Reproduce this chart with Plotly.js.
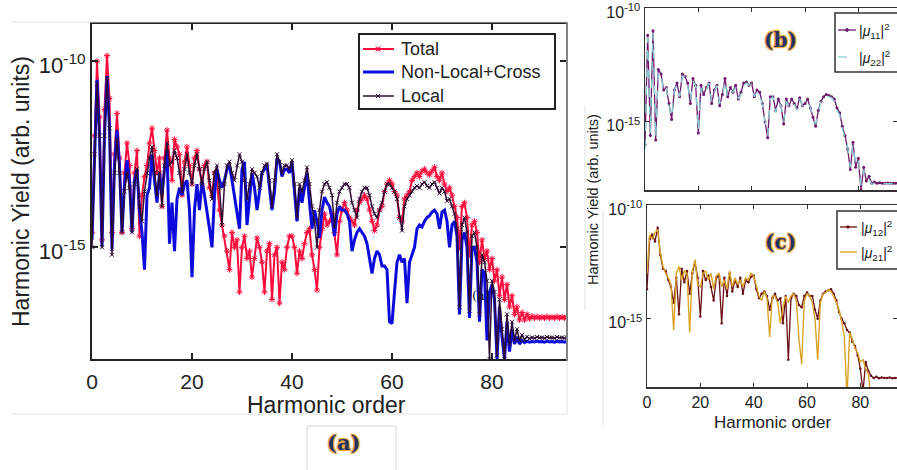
<!DOCTYPE html>
<html>
<head>
<meta charset="utf-8">
<script src="https://cdn.plot.ly/plotly-3.0.1.min.js"></script>
<style>
html, body { margin: 0; padding: 0; overflow: hidden; background: #fff; }
#chart { width: 897px; height: 470px; }
</style>
</head>
<body>
<div id="chart"></div>
<script>
// ---------------- DATA (log10 of harmonic yield, arb. units) ----------------
// Panel (a): sampled every 0.5 harmonic order, 0 .. 95
const mainStep = 0.5;
const totalLog10 = [
-14.6,-12.0,-10.0,-11.5,-14.8,-11.3,-9.85,-11.0,-14.6,-12.5,
-11.4,-12.6,-14.6,-13.0,-12.2,-12.8,-14.5,-13.0,-12.4,-14.7,
-13.6,-13.1,-12.8,-12.2,-11.8,-12.4,-13.0,-12.6,-13.9,-12.6,
-11.85,-12.6,-13.2,-12.1,-12.3,-12.5,-13.6,-12.7,-12.3,-12.8,
-13.3,-12.6,-12.4,-12.9,-13.3,-12.8,-12.7,-13.4,-13.6,-13.0,
-13.2,-14.0,-14.4,-14.7,-15.1,-15.6,-14.6,-15.0,-14.8,-16.2,
-15.0,-14.7,-15.3,-15.1,-15.8,-15.3,-14.75,-15.0,-15.4,-16.2,
-15.1,-14.9,-16.4,-15.2,-15.0,-16.5,-15.4,-15.6,-15.0,-14.7,
-14.7,-15.0,-15.7,-15.1,-15.3,-14.9,-14.6,-14.5,-15.2,-15.6,
-16.15,-15.0,-14.5,-14.1,-14.4,-14.3,-14.1,-14.6,-15.2,-14.3,
-14.0,-13.8,-14.0,-14.2,-14.3,-14.4,-14.0,-13.8,-13.7,-13.6,
-13.7,-14.0,-14.3,-14.55,-14.4,-14.0,-13.9,-13.5,-13.3,-13.2,
-13.3,-13.5,-13.6,-14.2,-14.3,-13.7,-13.6,-13.5,-13.2,-13.1,
-13.0,-13.1,-12.95,-12.9,-13.0,-13.05,-12.95,-12.85,-13.1,-13.2,
-13.0,-13.3,-13.5,-13.4,-13.6,-13.9,-14.2,-15.0,-13.9,-13.8,
-14.2,-15.2,-14.4,-14.3,-14.6,-15.4,-14.8,-15.3,-15.1,-15.6,
-15.3,-15.9,-15.6,-16.3,-15.8,-16.4,-16.0,-16.6,-16.3,-16.8,
-16.6,-16.95,-16.75,-16.95,-16.8,-16.92,-16.85,-16.9,-16.86,-16.9,
-16.87,-16.9,-16.86,-16.9,-16.87,-16.9,-16.86,-16.9,-16.87,-16.9,
-16.88];
const nonLocalCrossLog10 = [
-14.8,-12.3,-10.5,-12.0,-15.0,-12.0,-10.4,-11.8,-15.1,-12.8,
-11.85,-12.8,-14.6,-13.3,-12.66,-13.2,-14.6,-13.2,-12.9,-14.0,
-14.6,-15.6,-13.6,-13.4,-12.5,-13.2,-13.8,-13.0,-13.6,-12.9,
-12.4,-14.9,-13.8,-15.1,-13.7,-13.4,-13.6,-13.3,-13.2,-14.0,
-15.8,-14.0,-13.3,-14.0,-13.2,-13.6,-14.0,-14.5,-15.0,-13.6,
-12.9,-13.2,-13.4,-13.2,-12.9,-12.8,-13.2,-13.6,-14.0,-14.5,
-12.9,-12.7,-14.4,-13.6,-13.0,-13.4,-14.0,-13.5,-13.0,-12.9,
-12.75,-13.4,-14.0,-13.5,-12.6,-12.7,-13.1,-12.9,-12.9,-13.0,
-12.7,-13.5,-14.3,-13.4,-13.8,-13.4,-13.0,-13.8,-14.5,-14.0,
-14.3,-14.75,-14.0,-13.65,-13.8,-13.9,-14.2,-14.7,-14.1,-13.9,
-14.0,-14.0,-14.1,-14.3,-15.1,-14.8,-14.6,-14.5,-14.6,-14.7,
-14.9,-15.3,-15.7,-15.3,-15.1,-15.2,-15.5,-15.5,-15.6,-17.0,
-17.05,-16.2,-15.4,-15.2,-15.4,-15.3,-16.5,-15.4,-15.2,-15.0,
-14.5,-14.4,-14.45,-14.3,-14.2,-14.15,-14.05,-14.0,-14.1,-14.5,
-14.05,-14.0,-14.3,-15.0,-14.4,-14.3,-14.7,-16.8,-14.8,-14.6,
-15.0,-16.9,-15.0,-15.0,-15.4,-17.0,-15.6,-15.7,-17.5,-16.2,
-16.0,-16.4,-18.0,-16.6,-17.4,-18.0,-17.0,-17.8,-17.2,-17.6,
-17.4,-17.6,-17.5,-17.56,-17.52,-17.55,-17.53,-17.54,-17.52,-17.54,
-17.53,-17.55,-17.52,-17.54,-17.53,-17.55,-17.52,-17.54,-17.53,-17.55,
-17.53];
const localLog10 = [
-15.0,-12.5,-10.6,-12.0,-15.0,-12.0,-10.45,-11.8,-15.2,-13.0,
-12.1,-13.0,-14.6,-13.5,-13.0,-13.4,-14.6,-13.3,-12.9,-13.9,
-14.3,-13.5,-13.0,-12.6,-12.3,-13.0,-13.6,-13.0,-13.9,-12.8,
-12.2,-12.8,-12.7,-12.4,-12.6,-13.0,-13.5,-12.9,-12.5,-13.0,
-13.3,-12.8,-12.5,-12.9,-13.3,-12.9,-12.7,-13.2,-13.7,-13.0,
-12.8,-13.4,-14.4,-13.3,-12.8,-12.7,-13.0,-13.2,-12.8,-12.5,
-12.7,-13.2,-13.7,-13.3,-12.9,-13.0,-13.1,-13.4,-13.0,-12.8,
-12.75,-13.2,-13.9,-13.2,-12.5,-12.7,-13.0,-12.8,-12.8,-12.9,
-12.66,-13.3,-14.2,-13.3,-13.5,-13.2,-12.85,-13.3,-13.9,-14.3,
-15.0,-14.0,-13.5,-13.3,-13.25,-13.4,-13.6,-14.45,-13.8,-13.5,
-13.4,-13.3,-13.3,-13.4,-13.8,-14.0,-14.2,-13.7,-13.5,-13.4,
-13.4,-13.6,-13.9,-14.1,-14.2,-14.0,-13.8,-13.5,-13.3,-13.3,
-13.4,-13.5,-13.7,-14.2,-14.55,-13.9,-13.7,-13.6,-13.5,-13.4,
-13.35,-13.4,-13.3,-13.25,-13.35,-13.4,-13.3,-13.25,-13.4,-13.55,
-13.4,-13.5,-13.75,-13.7,-13.9,-14.1,-14.5,-16.6,-14.4,-14.2,
-14.6,-16.7,-14.7,-14.6,-15.0,-16.8,-15.2,-15.4,-15.9,-18.0,
-15.9,-16.2,-17.9,-16.4,-17.2,-18.0,-16.8,-17.6,-17.0,-17.5,
-17.2,-17.5,-17.35,-17.48,-17.4,-17.45,-17.42,-17.44,-17.41,-17.43,
-17.42,-17.44,-17.41,-17.43,-17.42,-17.44,-17.41,-17.43,-17.42,-17.44,
-17.42];

// Panels (b) and (c): sampled every 1 harmonic order, 0 .. 95
const sideStep = 1;
const mu11Log10 = [
-16.0,-11.2,-15.6,-11.0,-15.8,-12.7,-12.9,-13.6,-13.5,-14.2,
-14.9,-13.6,-13.3,-13.9,-12.9,-13.0,-13.3,-14.2,-13.1,-13.4,
-15.5,-13.4,-13.8,-13.5,-13.3,-14.2,-13.6,-13.4,-14.3,-13.8,
-13.1,-13.9,-13.5,-13.7,-13.4,-14.0,-13.7,-13.3,-13.25,-13.4,
-13.3,-13.9,-13.6,-13.7,-14.2,-15.0,-15.7,-13.9,-13.9,-14.5,
-14.0,-14.3,-15.1,-14.0,-14.3,-14.0,-14.2,-14.4,-13.95,-14.3,
-14.2,-14.0,-14.4,-14.8,-15.2,-14.5,-14.1,-13.9,-13.8,-13.85,
-13.9,-14.0,-14.4,-14.6,-15.2,-15.6,-16.2,-17.1,-15.9,-17.0,
-16.6,-18.0,-17.0,-17.6,-17.4,-17.7,-17.65,-17.7,-17.68,-17.7,
-17.7,-17.69,-17.7,-17.7,-17.7,-17.7];
const mu22Log10 = [
-16.2,-11.3,-15.5,-11.1,-15.7,-12.8,-12.9,-13.7,-13.5,-14.3,
-14.8,-13.6,-13.4,-13.9,-13.0,-13.0,-13.4,-14.1,-13.2,-13.4,
-15.4,-13.5,-13.8,-13.6,-13.3,-14.1,-13.7,-13.4,-14.2,-13.9,
-13.2,-13.9,-13.6,-13.7,-13.5,-14.0,-13.8,-13.4,-13.3,-13.4,
-13.35,-13.9,-13.7,-13.7,-14.3,-15.0,-15.6,-14.0,-13.9,-14.6,
-14.1,-14.3,-15.0,-14.1,-14.3,-14.1,-14.2,-14.5,-14.0,-14.3,
-14.25,-14.1,-14.4,-14.9,-15.1,-14.6,-14.1,-14.0,-13.85,-13.9,
-13.95,-14.1,-14.5,-14.7,-15.3,-15.7,-16.1,-17.0,-16.0,-16.9,
-16.7,-17.8,-17.1,-17.5,-17.5,-17.75,-17.7,-17.72,-17.7,-17.72,
-17.72,-17.7,-17.72,-17.72,-17.72,-17.72];
const mu12Log10 = [
-13.7,-11.5,-11.3,-11.6,-11.0,-12.2,-12.8,-12.9,-13.3,-13.6,
-14.3,-13.2,-14.8,-12.8,-13.4,-12.9,-13.9,-13.0,-12.5,-13.2,
-14.9,-12.9,-13.3,-13.1,-13.6,-14.2,-13.2,-13.1,-15.2,-13.2,
-14.0,-13.0,-13.8,-13.3,-13.6,-13.2,-13.9,-13.3,-13.4,-13.15,
-13.1,-13.7,-14.1,-13.9,-13.8,-14.0,-14.6,-14.1,-13.9,-14.2,
-14.1,-15.2,-14.0,-16.8,-14.1,-13.9,-14.0,-14.4,-14.5,-14.0,
-13.85,-14.0,-14.0,-14.6,-15.0,-14.2,-13.9,-13.8,-13.75,-13.7,
-13.9,-14.2,-14.7,-15.0,-15.2,-15.5,-15.6,-16.0,-16.2,-16.6,
-17.2,-18.2,-16.9,-17.3,-17.5,-17.6,-17.55,-17.62,-17.58,-17.6,
-17.6,-17.58,-17.62,-17.6,-17.6,-17.6];
const mu21Log10 = [
-13.0,-11.3,-11.5,-11.2,-11.1,-12.1,-12.7,-13.0,-13.2,-13.5,
-15.5,-13.0,-12.7,-13.3,-12.9,-13.0,-15.6,-12.9,-12.4,-13.5,
-13.6,-13.0,-12.9,-13.3,-13.0,-13.7,-13.1,-13.0,-13.6,-13.3,
-13.7,-12.9,-13.6,-13.2,-13.5,-13.3,-13.6,-13.2,-13.3,-13.0,
-13.1,-13.6,-14.0,-14.2,-13.8,-14.1,-15.8,-14.0,-14.0,-14.3,
-15.2,-14.5,-14.0,-14.3,-14.0,-13.9,-14.2,-15.9,-17.0,-14.2,
-13.9,-14.0,-14.3,-15.0,-16.8,-14.3,-13.9,-13.85,-13.7,-13.8,
-14.0,-14.3,-14.6,-15.1,-15.8,-18.5,-15.6,-15.9,-16.3,-16.5,
-16.9,-16.8,-17.2,-17.4,-18.5,-18.6,-18.6,-18.6,-18.6,-18.6,
-18.6,-18.6,-18.6,-18.6,-18.6,-18.6];

const seriesNames = ['Total', 'Non-Local+Cross', 'Local',
  '|<i>μ</i><sub>11</sub>|<sup>2</sup>', '|<i>μ</i><sub>22</sub>|<sup>2</sup>',
  '|<i>μ</i><sub>12</sub>|<sup>2</sup>', '|<i>μ</i><sub>21</sub>|<sup>2</sup>'];
const xTickVals = [0, 20, 40, 60, 80];
const yTickVals = [1e-10, 1e-15];
const yTickText = ['10<sup>-10</sup>', '10<sup>-15</sup>'];

// ---------------- BUILD ----------------
const orders = (n, step) => Array.from({length: n}, (_, i) => i * step);
const toYield = arr => arr.map(v => Math.pow(10, v));
const xMain = orders(totalLog10.length, mainStep);
const xSide = orders(mu11Log10.length, sideStep);

const W = 897, H = 470;
const PX = x => x / W;
const PY = y => 1 - y / H;
const FONT = 'Liberation Sans, Arial, Helvetica, sans-serif';
const INK = '#222222';
const C = {total: '#ff0a3c', nonloc: '#0b0bdb', local: '#2c0c32',
           mu11: '#6d1a6d', mu22: '#84cfcf', mu12: '#6a0f14', mu21: '#d9a328'};

const traces = [
  {x: xMain, y: toYield(totalLog10), name: seriesNames[0], mode: 'lines+markers',
   line: {color: C.total, width: 2},
   marker: {symbol: 'asterisk-open', size: 5, color: C.total, line: {color: C.total, width: 1}},
   xaxis: 'x', yaxis: 'y'},
  {x: xMain, y: toYield(nonLocalCrossLog10), name: seriesNames[1], mode: 'lines',
   line: {color: C.nonloc, width: 3}, xaxis: 'x', yaxis: 'y'},
  {x: xMain, y: toYield(localLog10), name: seriesNames[2], mode: 'lines+markers',
   line: {color: C.local, width: 1.5},
   marker: {symbol: 'x-thin-open', size: 4, color: C.local, line: {color: C.local, width: 1}},
   xaxis: 'x', yaxis: 'y'},
  {x: xSide, y: toYield(mu11Log10), name: seriesNames[3], mode: 'lines+markers',
   line: {color: C.mu11, width: 1.3}, marker: {symbol: 'circle', size: 3, color: C.mu11},
   xaxis: 'x2', yaxis: 'y2'},
  {x: xSide, y: toYield(mu22Log10), name: seriesNames[4], mode: 'lines',
   line: {color: C.mu22, width: 1.3, dash: 'dash'}, xaxis: 'x2', yaxis: 'y2'},
  {x: xSide, y: toYield(mu12Log10), name: seriesNames[5], mode: 'lines+markers',
   line: {color: C.mu12, width: 1.3}, marker: {symbol: 'circle', size: 2.5, color: C.mu12},
   xaxis: 'x3', yaxis: 'y3'},
  {x: xSide, y: toYield(mu21Log10), name: seriesNames[6], mode: 'lines',
   line: {color: C.mu21, width: 1.4}, xaxis: 'x3', yaxis: 'y3'}
];

function xAx(domain, range, opts) {
  return Object.assign({
    domain: domain, range: range, anchor: 'free', showgrid: false, zeroline: false,
    showline: true, mirror: 'ticks', ticks: 'inside', tickvals: xTickVals,
    ticklabeloverflow: 'allow',
    tickfont: {family: FONT, size: 21, color: INK}, fixedrange: true
  }, opts);
}
function yAx(domain, opts) {
  return Object.assign({
    domain: domain, type: 'log', range: [-18, -10], showgrid: false, zeroline: false,
    showline: true, mirror: 'ticks', ticks: 'inside', tickvals: yTickVals, ticktext: yTickText,
    ticklabeloverflow: 'allow', ticklabelshift: 4,
    tickfont: {family: FONT, size: 21, color: INK}, fixedrange: true
  }, opts);
}

const labelShadow = '1px 1px 1px #f2a23a, -1px -1px 1px #f2a23a, 1px -1px 1px #f2a23a, -1px 1px 1px #f2a23a';
function note(text, x, y, font, extra) {
  return Object.assign({text: text, xref: 'paper', yref: 'paper', x: PX(x), y: PY(y),
    xanchor: 'center', yanchor: 'middle', showarrow: false, font: font}, extra || {});
}
function pline(x0, y0, x1, y1, color, width, dash) {
  return {type: 'line', xref: 'paper', yref: 'paper', x0: PX(x0), x1: PX(x1), y0: PY(y0), y1: PY(y1),
          line: {color: color, width: width, dash: dash || 'solid'}};
}
function prect(x0, y0, x1, y1, color, width) {
  return {type: 'rect', xref: 'paper', yref: 'paper', x0: PX(x0), x1: PX(x1), y0: PY(y0), y1: PY(y1),
          line: {color: color, width: width}, fillcolor: 'rgba(255,255,255,1)', layer: 'above'};
}
function pathShape(pts, color, width) {
  const d = pts.map(p => (p[0] === 'M' ? 'M' : 'L') + PX(p[1]) + ',' + PY(p[2])).join(' ');
  return {type: 'path', xref: 'paper', yref: 'paper', path: d, line: {color: color, width: width}};
}
function xGlyph(cx, cy, r, color) {
  return pathShape([['M', cx - r, cy - r], ['L', cx + r, cy + r], ['M', cx - r, cy + r], ['L', cx + r, cy - r]], color, 1);
}
function starGlyph(cx, cy, r, color) {
  return pathShape([['M', cx - r, cy - r], ['L', cx + r, cy + r], ['M', cx - r, cy + r], ['L', cx + r, cy - r],
                    ['M', cx, cy - r], ['L', cx, cy + r], ['M', cx - r, cy], ['L', cx + r, cy]], color, 1);
}
function dotGlyph(cx, cy, r, color) {
  return {type: 'circle', xref: 'paper', yref: 'paper', x0: PX(cx - r), x1: PX(cx + r), y0: PY(cy - r), y1: PY(cy + r),
          line: {color: color, width: 1}, fillcolor: color};
}

// Legends (drawn as boxes, samples and labels)
const legendShapes = [
  prect(359, 34, 555, 109, INK, 2),
  pline(363, 49, 394, 49, C.total, 2), starGlyph(378, 49, 2.5, C.total),
  pline(363, 72, 394, 72, C.nonloc, 3),
  pline(363, 96, 394, 96, C.local, 1.5), xGlyph(378, 96, 2, C.local),
  prect(835, 13, 905, 72, '#333', 1.5),
  pline(838, 30, 856, 30, C.mu11, 1.3), dotGlyph(847, 30, 1.4, C.mu11),
  pline(838, 57, 856, 57, C.mu22, 1.3, 'dash'),
  prect(837, 211, 905, 269, '#333', 1.5),
  pline(840, 227, 857, 227, C.mu12, 1.3), dotGlyph(848, 227, 1.2, C.mu12),
  pline(840, 252, 857, 252, C.mu21, 1.4)
];
const legendNotes = [
  note(seriesNames[0], 399, 49, {family: FONT, size: 18, color: INK}, {xanchor: 'left'}),
  note(seriesNames[1], 399, 72, {family: FONT, size: 18, color: INK}, {xanchor: 'left'}),
  note(seriesNames[2], 399, 96, {family: FONT, size: 18, color: INK}, {xanchor: 'left'}),
  note(seriesNames[3], 857, 31, {family: FONT, size: 14, color: INK}, {xanchor: 'left'}),
  note(seriesNames[4], 857, 58, {family: FONT, size: 14, color: INK}, {xanchor: 'left'}),
  note(seriesNames[5], 859, 228, {family: FONT, size: 14, color: INK}, {xanchor: 'left'}),
  note(seriesNames[6], 859, 253, {family: FONT, size: 14, color: INK}, {xanchor: 'left'})
];

const layout = {
  width: W, height: H, autosize: false,
  margin: {l: 0, r: 0, t: 0, b: 0, pad: 0},
  paper_bgcolor: '#ffffff', plot_bgcolor: '#ffffff',
  font: {family: FONT, color: INK},
  showlegend: false,
  xaxis: xAx([PX(92), PX(566)], [0, 94.8], {anchor: 'y', linewidth: 2, linecolor: INK, tickcolor: INK, ticklen: 6, tickwidth: 2, ticklabelstandoff: 3}),
  yaxis: yAx([PY(359), PY(24)], {anchor: 'x', range: [-18, -9], linewidth: 2, linecolor: INK, tickcolor: INK, ticklen: 6, tickwidth: 2, tickfont: {family: FONT, size: 22, color: INK}}),
  xaxis2: xAx([PX(645), PX(897)], [0, 94.5], {anchor: 'y2', showticklabels: false, linewidth: 1.5, linecolor: '#333', tickcolor: '#333', ticklen: 4}),
  yaxis2: yAx([PY(190), PY(8)], {anchor: 'x2', linewidth: 1.5, linecolor: '#333', tickcolor: '#333', ticklen: 4, tickfont: {family: FONT, size: 16, color: INK}}),
  xaxis3: xAx([PX(647), PX(897)], [0, 93.75], {anchor: 'y3', linewidth: 1.5, linecolor: '#333', tickcolor: '#333', ticklen: 4, tickfont: {family: FONT, size: 16, color: INK}, ticklabelstandoff: 0}),
  yaxis3: yAx([PY(387), PY(205)], {anchor: 'x3', linewidth: 1.5, linecolor: '#333', tickcolor: '#333', ticklen: 4, tickfont: {family: FONT, size: 16, color: INK}}),
  annotations: [
    note('Harmonic Yield (arb. units)', 21, 192, {family: FONT, size: 23, color: INK}, {textangle: -90}),
    note('Harmonic order', 326, 405, {family: FONT, size: 23, color: INK}),
    note('(a)', 481, 295, {family: 'DejaVu Serif, serif', size: 13, color: '#111'}),
    note('(a)', 343, 442, {family: 'DejaVu Serif, serif', size: 21, color: '#253363', weight: 'bold', shadow: labelShadow}),
    note('(b)', 780, 40, {family: 'DejaVu Serif, serif', size: 20, color: '#253363', weight: 'bold', shadow: labelShadow}),
    note('(c)', 780, 242, {family: 'DejaVu Serif, serif', size: 20, color: '#253363', weight: 'bold', shadow: labelShadow}),
    note('Harmonic Yield (arb. units)', 593, 200, {family: FONT, size: 14.5, color: INK}, {textangle: -90}),
    note('Harmonic order', 772, 422, {family: FONT, size: 17, color: INK})
  ].concat(legendNotes),
  shapes: [
    pline(11, 22, 567, 22, '#e2e2e2', 1),
    pline(11, 414, 567, 414, '#e2e2e2', 1),
    pline(567, 22, 567, 414, '#e2e2e2', 1),
    {type: 'rect', xref: 'paper', yref: 'paper', x0: PX(307), x1: PX(396), y0: PY(426), y1: PY(476), line: {color: '#d8d8d8', width: 1}},
    pline(585, 105, 585, 310, '#e2e2e2', 1),
    pline(603, 210, 603, 427, '#e2e2e2', 1)
  ].concat(legendShapes)
};

Plotly.newPlot('chart', traces, layout, {staticPlot: true, displayModeBar: false});
</script>
</body>
</html>
